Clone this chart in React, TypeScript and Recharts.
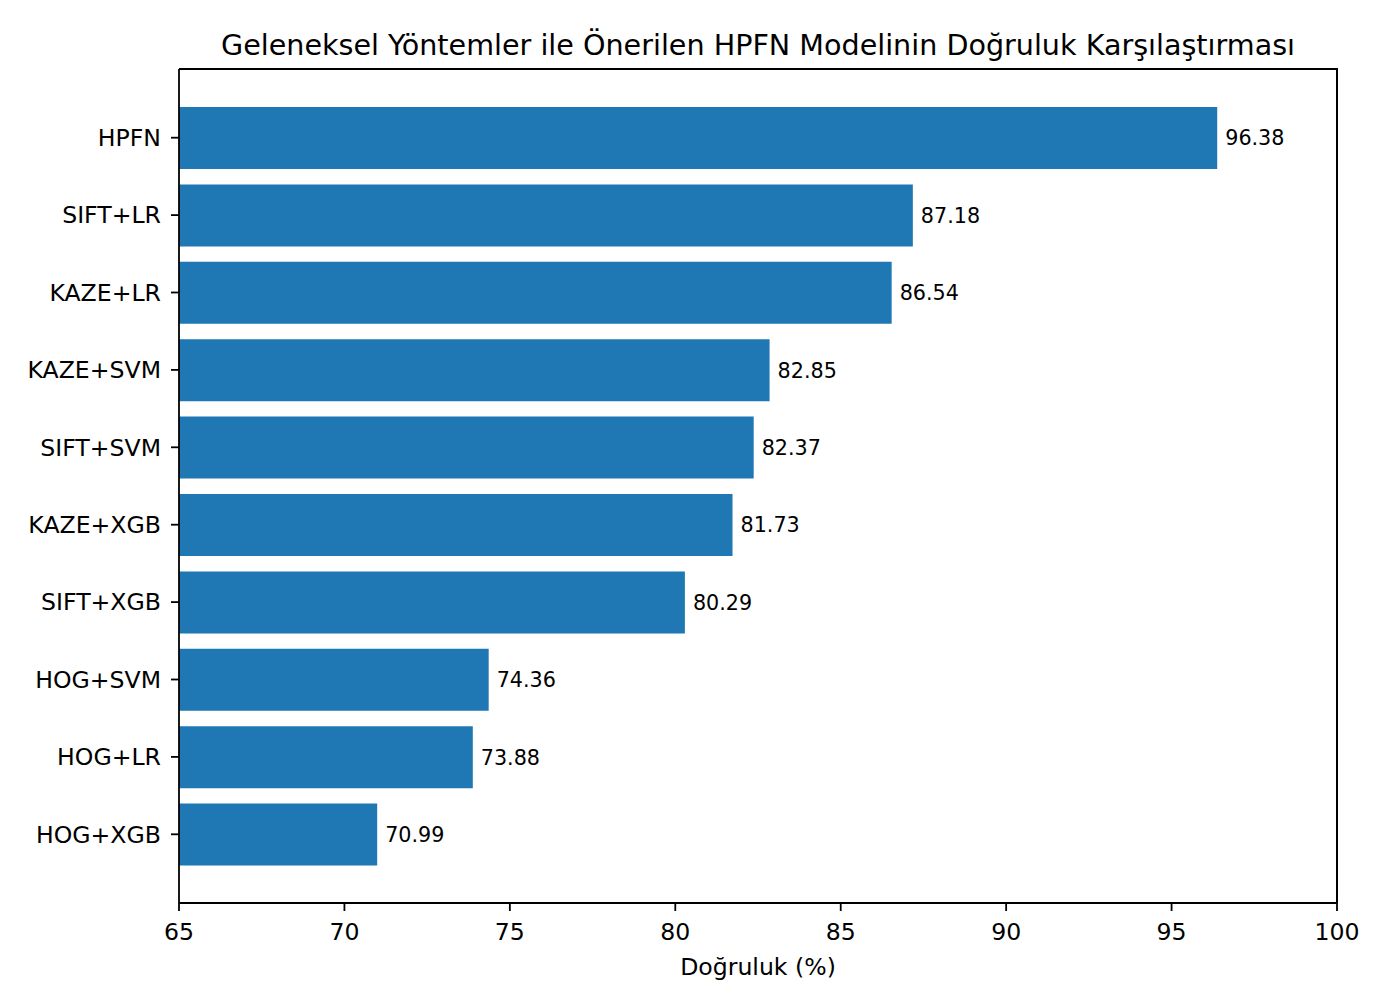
import { Bar, BarChart, LabelList, XAxis, YAxis } from 'recharts'

const methods = [
  'HPFN',
  'SIFT+LR',
  'KAZE+LR',
  'KAZE+SVM',
  'SIFT+SVM',
  'KAZE+XGB',
  'SIFT+XGB',
  'HOG+SVM',
  'HOG+LR',
  'HOG+XGB',
]
const accuracy = [96.38, 87.18, 86.54, 82.85, 82.37, 81.73, 80.29, 74.36, 73.88, 70.99]
const xTicks = [65, 70, 75, 80, 85, 90, 95, 100]

const data = methods.map((name, i) => ({ name, value: accuracy[i] }))

const font = "'DejaVu Sans', sans-serif"
const W = 1378
const H = 997
const line = { stroke: '#000', strokeWidth: 1.8 }

export default function App() {
  return (
    <div style={{ position: 'relative', width: W, height: H, fontFamily: font }}>
      <div
        style={{
          position: 'absolute',
          left: 171,
          width: 1158,
          top: 22,
          textAlign: 'center',
          fontSize: 28.6,
          lineHeight: '30px',
          color: '#000',
        }}
      >
        Geleneksel Yöntemler ile Önerilen HPFN Modelinin Doğruluk Karşılaştırması
      </div>
      <BarChart
        width={W}
        height={H}
        data={data}
        layout="vertical"
        margin={{ top: 61, right: 49, bottom: 22, left: 0 }}
        style={{ fontFamily: font }}
      >
        <XAxis
          type="number"
          domain={[65, 100]}
          ticks={xTicks}
          allowDataOverflow
          height={80}
          tickSize={8}
          tickMargin={12}
          axisLine={line}
          tickLine={line}
          tick={{ fill: '#000', fontSize: 23.6 }}
          label={{ value: 'Doğruluk (%)', position: 'insideBottom', offset: 8, fill: '#000', fontSize: 23.6 }}
        />
        <YAxis
          type="category"
          dataKey="name"
          width={171}
          padding={{ top: 30, bottom: 30 }}
          tickSize={8}
          tickMargin={10}
          axisLine={line}
          tickLine={line}
          tick={{ fill: '#000', fontSize: 23.6 }}
        />
        <Bar dataKey="value" fill="#1f77b4" barSize={62} isAnimationActive={false}>
          <LabelList
            dataKey="value"
            position="right"
            offset={8}
            fill="#000"
            fontSize={20.7}
            formatter={(v: number) => v.toFixed(2)}
          />
        </Bar>
      </BarChart>
      {/* top and right spines */}
      <div
        style={{
          position: 'absolute',
          left: 171,
          top: 60,
          width: 1159,
          height: 835,
          boxSizing: 'border-box',
          borderTop: '2px solid #000',
          borderRight: '2px solid #000',
          pointerEvents: 'none',
        }}
      />
    </div>
  )
}
